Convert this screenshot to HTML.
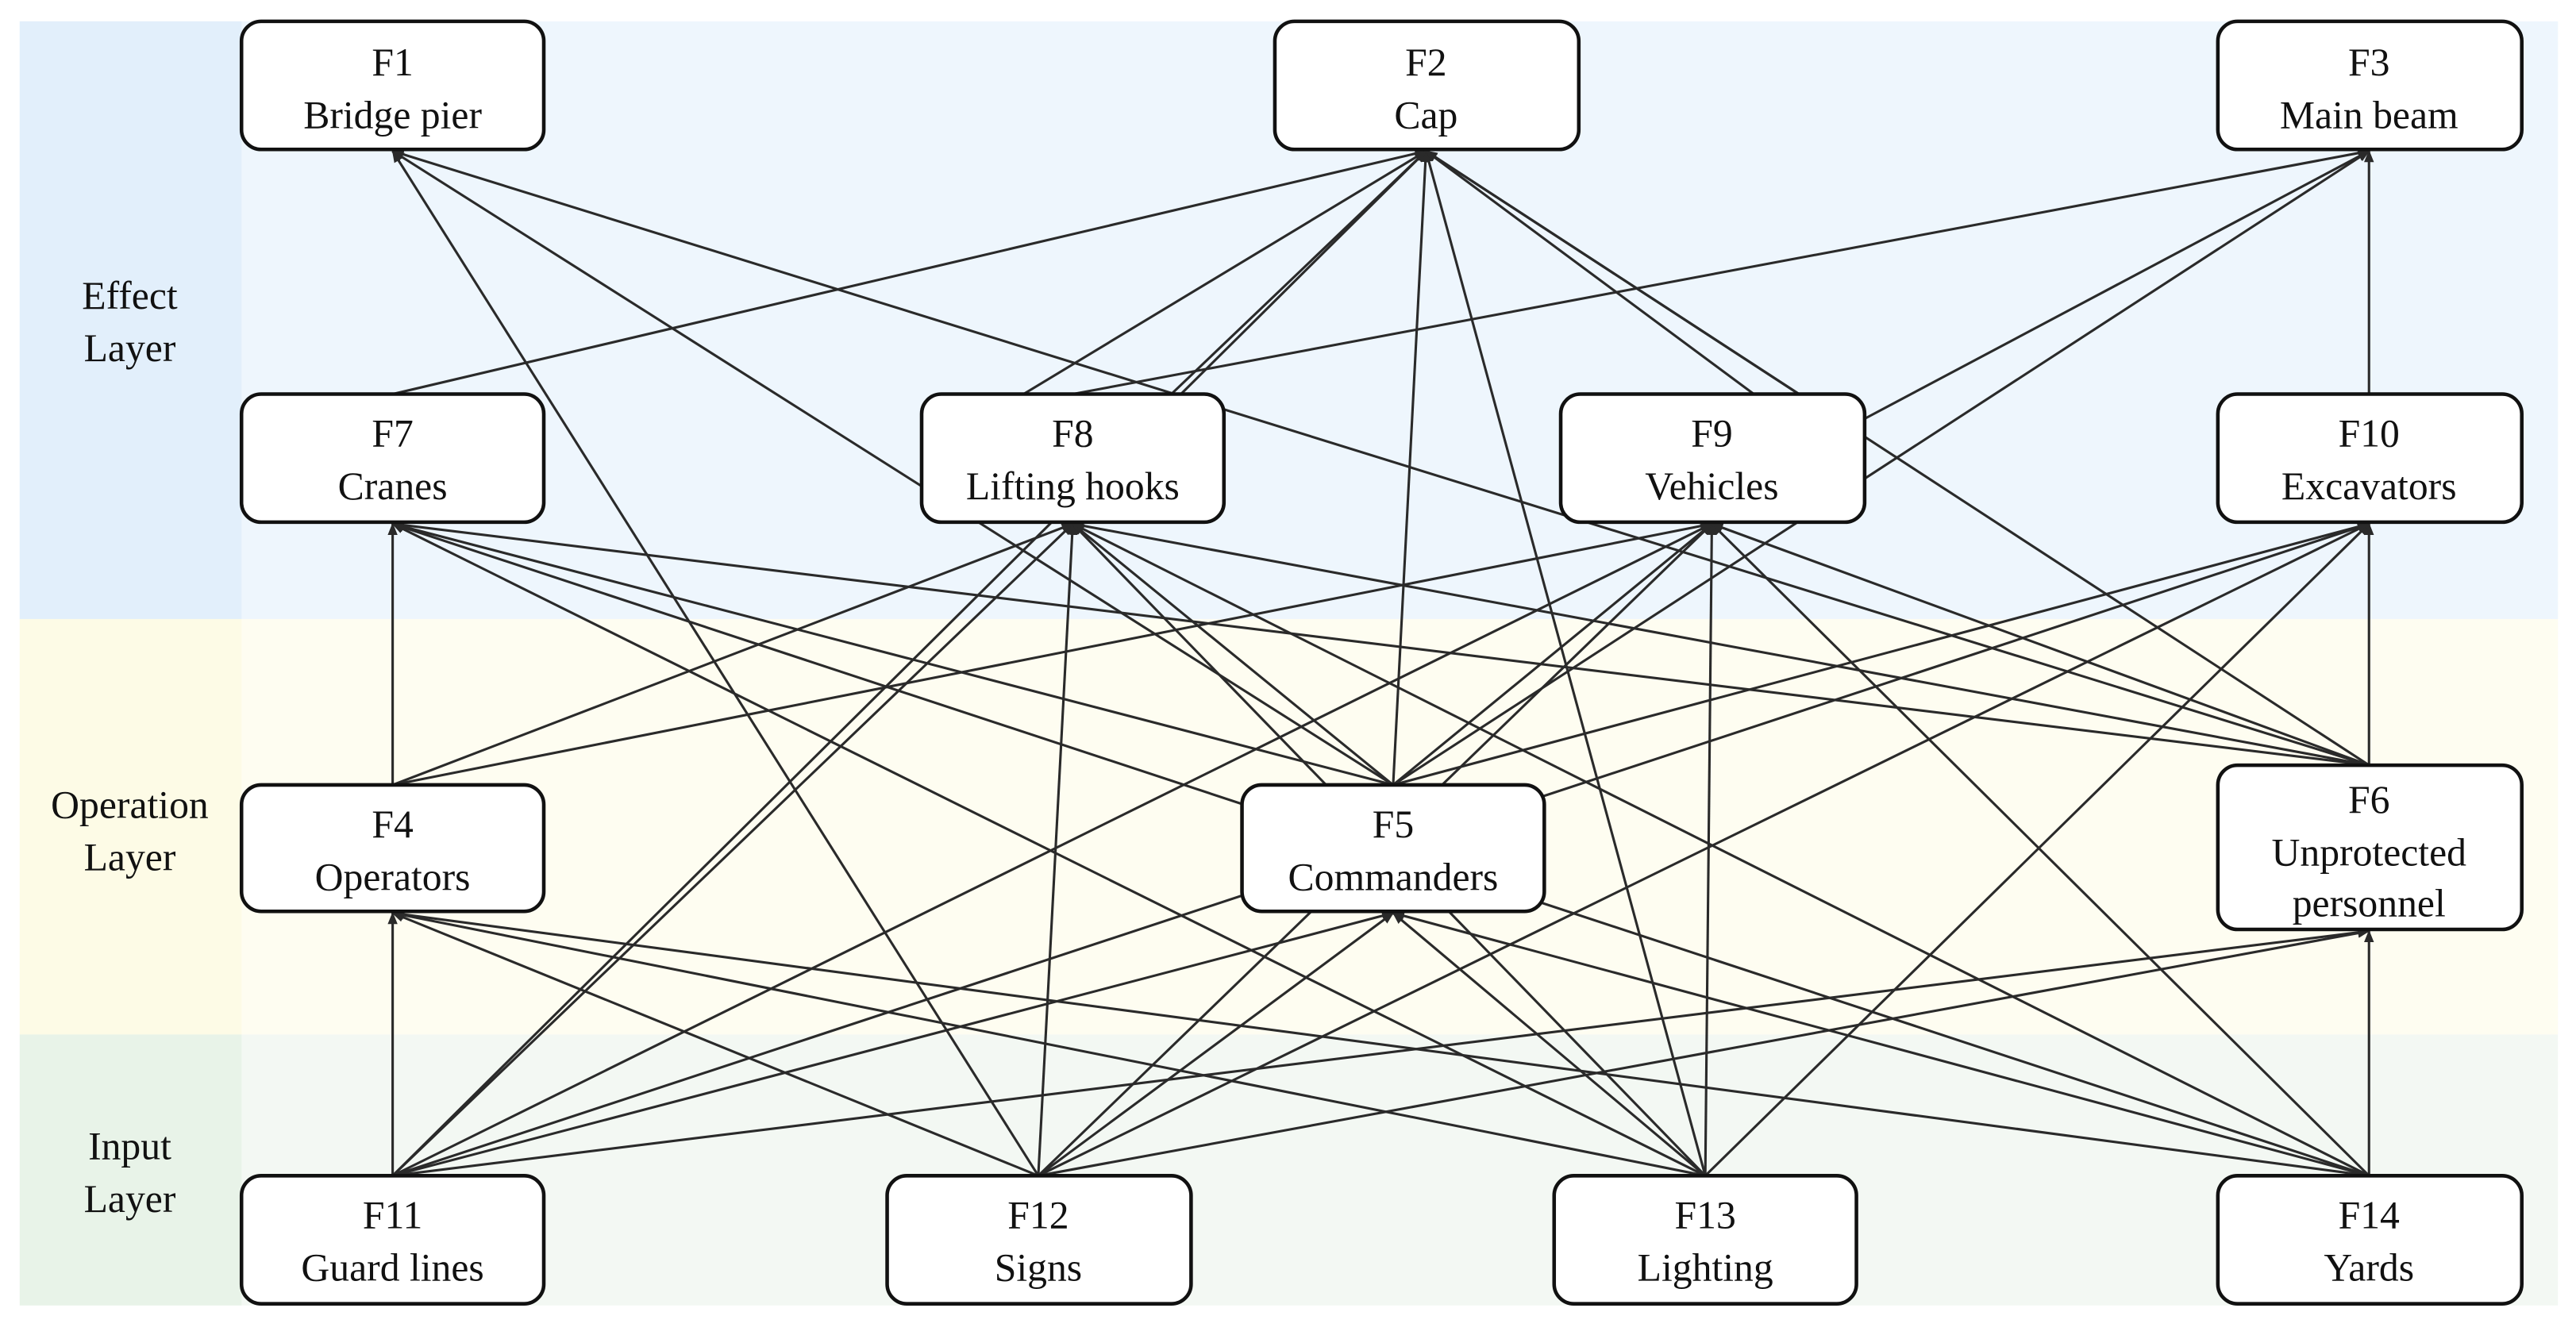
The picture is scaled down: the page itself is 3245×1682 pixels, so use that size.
<!DOCTYPE html>
<html><head><meta charset="utf-8"><style>
html,body{margin:0;padding:0;background:#fff;}
svg{display:block;}
text{font-family:"Liberation Serif",serif;font-size:24px;fill:#111;text-anchor:middle;}
</style></head><body>
<svg width="3245" height="1682" viewBox="0 0 1568 813" preserveAspectRatio="none" xmlns="http://www.w3.org/2000/svg">
<defs><marker id="a" viewBox="0 0 10 10" refX="9" refY="5" markerWidth="5" markerHeight="5" orient="auto"><path d="M0,1 L10,5 L0,9 z" fill="#2a2a2a"/></marker></defs>
<rect x="12" y="13" width="1545" height="364" fill="#eef6fd"/>
<rect x="12" y="13" width="135" height="364" fill="#e2effb"/>
<rect x="12" y="377" width="1545" height="253" fill="#fefdf1"/>
<rect x="12" y="377" width="135" height="253" fill="#fdfbe6"/>
<rect x="12" y="630" width="1545" height="165" fill="#f3f8f3"/>
<rect x="12" y="630" width="135" height="165" fill="#e8f3e8"/>
<text x="79" y="188">Effect</text><text x="79" y="220">Layer</text>
<text x="79" y="498">Operation</text><text x="79" y="530">Layer</text>
<text x="79" y="706">Input</text><text x="79" y="738">Layer</text>
<g stroke="#2a2a2a" stroke-width="1.5" fill="none" marker-end="url(#a)">
<line x1="239" y1="716" x2="239" y2="556"/>
<line x1="239" y1="716" x2="653" y2="319"/>
<line x1="239" y1="716" x2="868" y2="92"/>
<line x1="239" y1="716" x2="848" y2="556"/>
<line x1="239" y1="716" x2="1042" y2="319"/>
<line x1="239" y1="716" x2="1442" y2="319"/>
<line x1="239" y1="716" x2="1442" y2="567"/>
<line x1="632" y1="716" x2="239" y2="92"/>
<line x1="632" y1="716" x2="239" y2="556"/>
<line x1="632" y1="716" x2="653" y2="319"/>
<line x1="632" y1="716" x2="848" y2="556"/>
<line x1="632" y1="716" x2="1042" y2="319"/>
<line x1="632" y1="716" x2="1442" y2="319"/>
<line x1="632" y1="716" x2="1442" y2="567"/>
<line x1="1038" y1="716" x2="1042" y2="319"/>
<line x1="1038" y1="716" x2="653" y2="319"/>
<line x1="1038" y1="716" x2="239" y2="319"/>
<line x1="1038" y1="716" x2="868" y2="92"/>
<line x1="1038" y1="716" x2="848" y2="556"/>
<line x1="1038" y1="716" x2="1442" y2="319"/>
<line x1="1038" y1="716" x2="239" y2="556"/>
<line x1="1442" y1="716" x2="1442" y2="567"/>
<line x1="1442" y1="716" x2="239" y2="556"/>
<line x1="1442" y1="716" x2="848" y2="556"/>
<line x1="1442" y1="716" x2="239" y2="319"/>
<line x1="1442" y1="716" x2="653" y2="319"/>
<line x1="1442" y1="716" x2="1042" y2="319"/>
<line x1="239" y1="478" x2="239" y2="319"/>
<line x1="239" y1="478" x2="653" y2="319"/>
<line x1="239" y1="478" x2="1042" y2="319"/>
<line x1="848" y1="478" x2="239" y2="92"/>
<line x1="848" y1="478" x2="868" y2="92"/>
<line x1="848" y1="478" x2="239" y2="319"/>
<line x1="848" y1="478" x2="653" y2="319"/>
<line x1="848" y1="478" x2="1042" y2="319"/>
<line x1="848" y1="478" x2="1442" y2="319"/>
<line x1="848" y1="478" x2="1442" y2="92"/>
<line x1="1442" y1="466" x2="1442" y2="319"/>
<line x1="1442" y1="466" x2="239" y2="319"/>
<line x1="1442" y1="466" x2="653" y2="319"/>
<line x1="1442" y1="466" x2="1042" y2="319"/>
<line x1="1442" y1="466" x2="868" y2="92"/>
<line x1="1442" y1="466" x2="239" y2="92"/>
<line x1="239" y1="240" x2="868" y2="92"/>
<line x1="623" y1="240" x2="868" y2="92"/>
<line x1="713" y1="240" x2="868" y2="92"/>
<line x1="653" y1="240" x2="1442" y2="92"/>
<line x1="1095" y1="240" x2="868" y2="92"/>
<line x1="1135" y1="255" x2="1442" y2="92"/>
<line x1="1135" y1="290" x2="868" y2="92"/>
<line x1="1442" y1="240" x2="1442" y2="92"/>
</g>
<g fill="#fff" stroke="#111" stroke-width="2.2">
<rect x="147" y="13" width="184" height="78" rx="12"/>
<rect x="776" y="13" width="185" height="78" rx="12"/>
<rect x="1350" y="13" width="185" height="78" rx="12"/>
<rect x="147" y="240" width="184" height="78" rx="12"/>
<rect x="561" y="240" width="184" height="78" rx="12"/>
<rect x="950" y="240" width="185" height="78" rx="12"/>
<rect x="1350" y="240" width="185" height="78" rx="12"/>
<rect x="147" y="478" width="184" height="77" rx="12"/>
<rect x="756" y="478" width="184" height="77" rx="12"/>
<rect x="1350" y="466" width="185" height="100" rx="12"/>
<rect x="147" y="716" width="184" height="78" rx="12"/>
<rect x="540" y="716" width="185" height="78" rx="12"/>
<rect x="946" y="716" width="184" height="78" rx="12"/>
<rect x="1350" y="716" width="185" height="78" rx="12"/>
</g>
<text x="239" y="46">F1</text><text x="239" y="78">Bridge pier</text>
<text x="868" y="46">F2</text><text x="868" y="78">Cap</text>
<text x="1442" y="46">F3</text><text x="1442" y="78">Main beam</text>
<text x="239" y="272">F7</text><text x="239" y="304">Cranes</text>
<text x="653" y="272">F8</text><text x="653" y="304">Lifting hooks</text>
<text x="1042" y="272">F9</text><text x="1042" y="304">Vehicles</text>
<text x="1442" y="272">F10</text><text x="1442" y="304">Excavators</text>
<text x="239" y="510">F4</text><text x="239" y="542">Operators</text>
<text x="848" y="510">F5</text><text x="848" y="542">Commanders</text>
<text x="1442" y="495">F6</text><text x="1442" y="527">Unprotected</text><text x="1442" y="558">personnel</text>
<text x="239" y="748">F11</text><text x="239" y="780">Guard lines</text>
<text x="632" y="748">F12</text><text x="632" y="780">Signs</text>
<text x="1038" y="748">F13</text><text x="1038" y="780">Lighting</text>
<text x="1442" y="748">F14</text><text x="1442" y="780">Yards</text>
</svg>
</body></html>
